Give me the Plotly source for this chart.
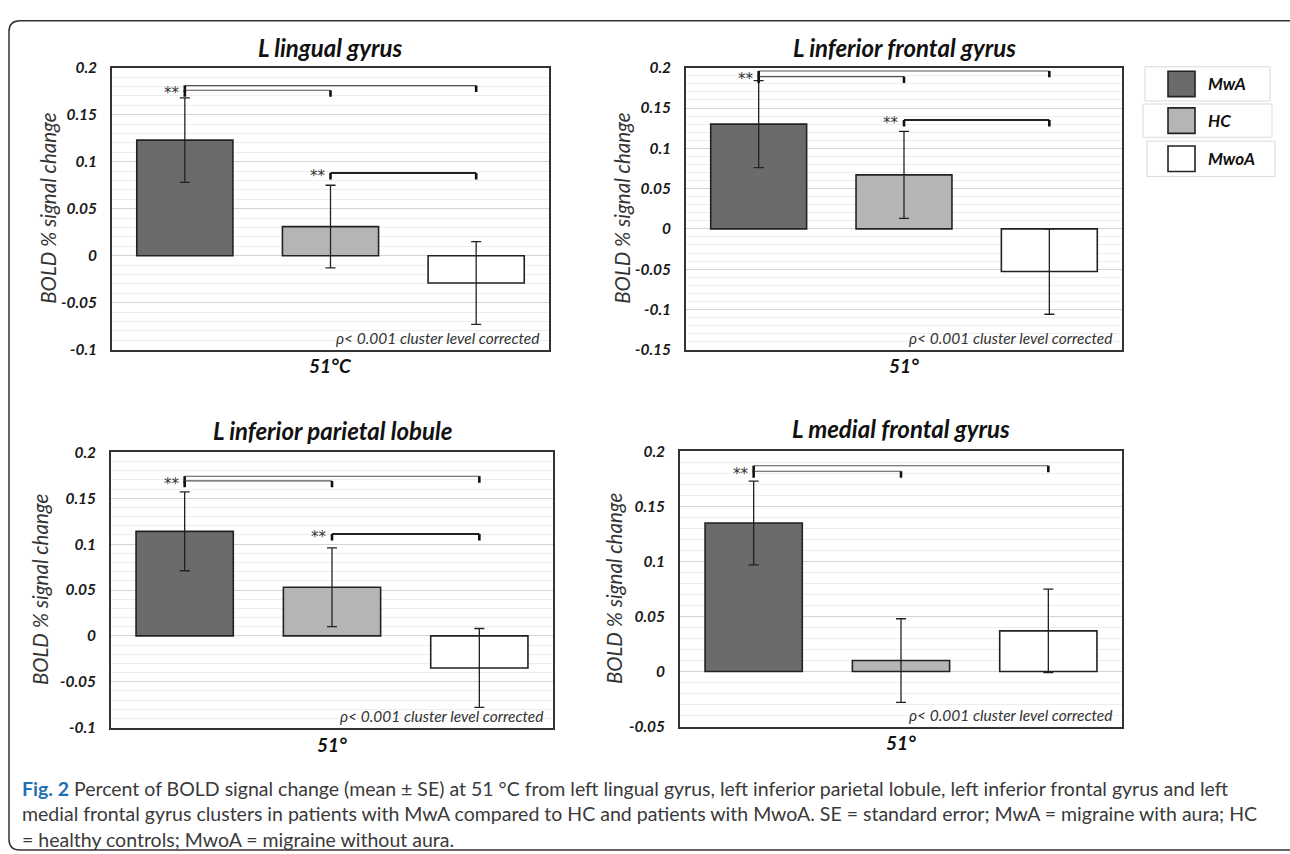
import plotly.graph_objects as go

W, H = 1290, 854

# ---------------- data ----------------
groups = ["MwA", "HC", "MwoA"]
bar_colors = ["#6b6b6b", "#b5b5b5", "#ffffff"]

panel_titles = ["L lingual gyrus", "L inferior frontal gyrus",
                "L inferior parietal lobule", "L medial frontal gyrus"]
x_labels = ["51°C", "51°", "51°", "51°"]

lingual_mean = [0.123, 0.031, -0.029]
lingual_se = [0.045, 0.044, 0.044]

ifg_mean = [0.130, 0.067, -0.053]
ifg_se = [0.054, 0.054, 0.053]

ipl_mean = [0.114, 0.053, -0.035]
ipl_se = [0.043, 0.043, 0.043]

mfg_mean = [0.135, 0.010, 0.037]
mfg_se = [0.038, 0.038, 0.038]

# significance brackets: (from group, to group, level)
lingual_brackets = [(0, 2, 0.181), (0, 1, 0.176), (1, 2, 0.088)]
ifg_brackets = [(0, 2, 0.196), (0, 1, 0.189), (1, 2, 0.135)]
ipl_brackets = [(0, 2, 0.174), (0, 1, 0.169), (1, 2, 0.111)]
mfg_brackets = [(0, 2, 0.187), (0, 1, 0.182)]

yticks_a = [-0.1, -0.05, 0, 0.05, 0.1, 0.15, 0.2]
yticks_a_text = ["-0.1", "-0.05", "0", "0.05", "0.1", "0.15", "0.2"]
yticks_b = [-0.15, -0.1, -0.05, 0, 0.05, 0.1, 0.15, 0.2]
yticks_b_text = ["-0.15", "-0.1", "-0.05", "0", "0.05", "0.1", "0.15", "0.2"]
yticks_c = [-0.05, 0, 0.05, 0.1, 0.15, 0.2]
yticks_c_text = ["-0.05", "0", "0.05", "0.1", "0.15", "0.2"]

ranges = [[-0.1, 0.2], [-0.15, 0.2], [-0.1, 0.2], [-0.05, 0.2]]

caption_lines = [
    "<b><span style='color:#1f6fb5'>Fig. 2</span></b> Percent of BOLD signal change (mean ± SE) at 51 °C from left lingual gyrus, left inferior parietal lobule, left inferior frontal gyrus and left",
    "medial frontal gyrus clusters in patients with MwA compared to HC and patients with MwoA. SE = standard error; MwA = migraine with aura; HC",
    "= healthy controls; MwoA = migraine without aura.",
]
p_note = "ρ< 0.001 cluster level corrected"
y_title = "BOLD % signal change"

# ---------------- layout helpers (pixel boxes) ----------------
def px(x):
    return x / W

def py(y):
    return 1 - y / H

panels = [
    dict(mean=lingual_mean, se=lingual_se, br=lingual_brackets, tv=yticks_a, tt=yticks_a_text,
         box=(112, 549, 59, 347), title_y=38, xl_y=363, yt_x=48),
    dict(mean=ifg_mean, se=ifg_se, br=ifg_brackets, tv=yticks_b, tt=yticks_b_text,
         box=(686, 1122, 59, 347), title_y=38, xl_y=363, yt_x=622),
    dict(mean=ipl_mean, se=ipl_se, br=ipl_brackets, tv=yticks_a, tt=yticks_a_text,
         box=(111, 553, 452, 733), title_y=430, xl_y=750, yt_x=40),
    dict(mean=mfg_mean, se=mfg_se, br=mfg_brackets, tv=yticks_c, tt=yticks_c_text,
         box=(680, 1122, 451, 732), title_y=428, xl_y=748, yt_x=614),
]

FONT = "Lato, 'Open Sans', sans-serif"
fig = go.Figure()
annotations = []
shapes = []
layout_axes = {}

for k, p in enumerate(panels):
    n = "" if k == 0 else str(k + 1)
    xa, ya = "x" + n, "y" + n
    x0, x1, y0, y1 = p["box"]
    fig.add_trace(go.Bar(
        x=[0, 1, 2], y=p["mean"], width=0.66, xaxis=xa, yaxis=ya,
        marker=dict(color=bar_colors, line=dict(color="#222222", width=1.6)),
        error_y=dict(type="data", array=p["se"], color="#222222", thickness=1.3, width=5),
        showlegend=False, hoverinfo="skip",
    ))
    layout_axes["xaxis" + n] = dict(
        domain=[px(x0), px(x1)], range=[-0.5, 2.5], anchor=ya,
        showticklabels=False, showgrid=False, zeroline=False, ticks="",
        showline=True, mirror=True, linecolor="#333333", linewidth=1.6, fixedrange=True,
    )
    layout_axes["yaxis" + n] = dict(
        domain=[py(y1), py(y0)], range=ranges[k], anchor=xa,
        tickmode="array", tickvals=p["tv"], ticktext=p["tt"], ticks="",
        ticklabelstandoff=10,
        tickfont=dict(family=FONT, size=15.5, color="#1a1a1a", weight="bold", style="italic"),
        showgrid=True, gridcolor="#d4d4d4", gridwidth=1,
        minor=dict(dtick=0.01, tick0=0, showgrid=True, gridcolor="#ededed", gridwidth=1),
        zeroline=False, showline=True, mirror=True, linecolor="#333333", linewidth=1.6,
        fixedrange=True,
    )
    rng = ranges[k][1] - ranges[k][0]
    drop = 6.5 * rng / (y1 - y0)
    # brackets
    star_levels = {}
    for (i, j, lev) in p["br"]:
        lw = 2 if (i, j) == (1, 2) else 1.1
        lc = "#222222" if (i, j) == (1, 2) else "#555555"
        shapes.append(dict(type="line", xref=xa, yref=ya, x0=i, x1=j, y0=lev, y1=lev,
                           line=dict(color=lc, width=lw)))
        shapes.append(dict(type="line", xref=xa, yref=ya, x0=j, x1=j, y0=lev, y1=lev - drop,
                           line=dict(color="#111111", width=2.6)))
        shapes.append(dict(type="line", xref=xa, yref=ya, x0=i, x1=i, y0=lev, y1=lev - drop,
                           line=dict(color="#111111", width=2.6)))
        star_levels[i] = min(star_levels.get(i, 1), lev)
    for i, lev in star_levels.items():
        annotations.append(dict(x=i, y=lev - drop * 0.45, xref=xa, yref=ya, text="**",
                                showarrow=False, xanchor="right", yanchor="middle", xshift=-3,
                                font=dict(family="DejaVu Sans, sans-serif", size=15, color="#333333")))
    # panel title
    annotations.append(dict(x=px((x0 + x1) / 2), y=py(p["title_y"]), xref="paper", yref="paper",
                            text=panel_titles[k], showarrow=False, xanchor="center", yanchor="middle",
                            font=dict(family=FONT, size=24, color="#111111", weight="bold", style="italic")))
    # x label
    annotations.append(dict(x=px((x0 + x1) / 2), y=py(p["xl_y"]), xref="paper", yref="paper",
                            text=x_labels[k], showarrow=False, xanchor="center", yanchor="middle",
                            font=dict(family=FONT, size=19, color="#111111", weight="bold", style="italic")))
    # y title
    annotations.append(dict(x=px(p["yt_x"]), y=py((y0 + y1) / 2), xref="paper", yref="paper",
                            text=y_title, showarrow=False, textangle=-90, xanchor="center", yanchor="middle",
                            font=dict(family=FONT, size=20.5, color="#333333", style="italic")))
    # p note
    annotations.append(dict(x=1, y=0, xref=xa + " domain", yref=ya + " domain", text=p_note,
                            showarrow=False, xanchor="right", yanchor="bottom", xshift=-8, yshift=1,
                            font=dict(family=FONT, size=15.5, color="#333333", style="italic")))

# ---------------- legend (separate boxes) ----------------
legend_boxes = [(1145, 1270, 58, 93), (1143, 1272, 96, 130), (1147, 1275, 134, 170)]
for g, col, (bx0, bx1, by0, by1) in zip(groups, bar_colors, legend_boxes):
    shapes.append(dict(type="rect", xref="paper", yref="paper", x0=px(bx0), x1=px(bx1),
                       y0=py(by1), y1=py(by0), line=dict(color="#d9d9d9", width=1), fillcolor="white"))
    cy = (by0 + by1) / 2
    shapes.append(dict(type="rect", xref="paper", yref="paper", x0=px(1168), x1=px(1195),
                       y0=py(cy + 13), y1=py(cy - 13), line=dict(color="#222222", width=1.6), fillcolor=col))
    annotations.append(dict(x=px(1206), y=py(cy), xref="paper", yref="paper", text=g,
                            showarrow=False, xanchor="left", yanchor="middle",
                            font=dict(family=FONT, size=17, color="#111111", weight="bold", style="italic")))

# ---------------- caption ----------------
for i, line in enumerate(caption_lines):
    annotations.append(dict(x=px(20), y=py(795 + 26 * i), xref="paper", yref="paper", text=line,
                            showarrow=False, xanchor="left", yanchor="middle", align="left",
                            font=dict(family=FONT, size=19.5, color="#3a3a3a")))

# ---------------- rounded frame ----------------
fl, fr, ft, fb, r = 9, 1300, 11, 858, 11
path = (f"M {px(fl)},{py(ft + r)} Q {px(fl)},{py(ft)} {px(fl + r)},{py(ft)} "
        f"L {px(fr - r)},{py(ft)} Q {px(fr)},{py(ft)} {px(fr)},{py(ft + r)} "
        f"L {px(fr)},{py(fb - r)} Q {px(fr)},{py(fb)} {px(fr - r)},{py(fb)} "
        f"L {px(fl + r)},{py(fb)} Q {px(fl)},{py(fb)} {px(fl)},{py(fb - r)} Z")
shapes.append(dict(type="path", xref="paper", yref="paper", path=path,
                   line=dict(color="#333333", width=1.5), layer="below"))

fig.update_layout(
    width=W, height=H, autosize=False,
    margin=dict(l=0, r=0, t=0, b=0, pad=0),
    paper_bgcolor="white", plot_bgcolor="white",
    bargap=0.3, showlegend=False,
    annotations=annotations, shapes=shapes,
    **layout_axes,
)

fig.write_html("out.html", config={"displayModeBar": False},
               post_script="document.body.style.margin='0';document.body.style.overflow='hidden';")
